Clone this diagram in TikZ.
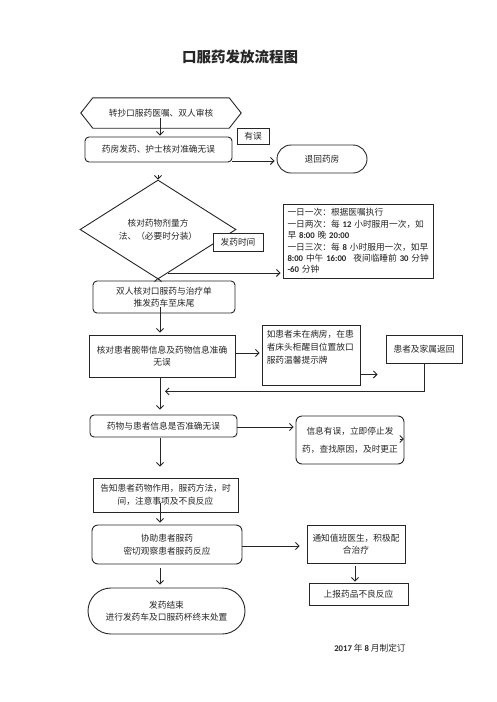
\documentclass[tikz,border=0pt]{standalone}
\usepackage{fontspec}
\setmainfont{Noto Sans CJK SC}
\newfontfamily\numf{Carlito}
\newcommand\nb[1]{{\numf\bfseries #1}}
\usetikzlibrary{arrows.meta,shapes.geometric,calc}
\begin{document}
\begin{tikzpicture}[x=1pt,y=-1pt,
  every node/.style={font=\fontsize{8.7}{12.5}\selectfont, inner sep=0pt, align=center, text=black!85},
  plain/.style={draw=black!85, line width=0.9pt},
  rbox/.style={plain, rounded corners=4pt},
  arr/.style={draw=black!85, line width=0.9pt, -{Straight Barb[length=3.5pt,width=7pt]}},
  ln/.style={draw=black!85, line width=0.9pt}]

\useasboundingbox[fill=white] (0,0) rectangle (496,702);
\coordinate (col) at (160,0);

\node[font=\fontsize{14.5}{16}\selectfont\bfseries] (title) at (240,57) {口服药发放流程图};

% hexagon
\node[minimum width=160pt, minimum height=30pt] (hex) at (161,113) {转抄口服药医嘱、双人审核};
\draw[plain] ([xshift=12pt]hex.north west) -- ([xshift=-12pt]hex.north east) -- (hex.east)
  -- ([xshift=-12pt]hex.south east) -- ([xshift=12pt]hex.south west) -- (hex.west) -- cycle;

\node[rbox, minimum width=147pt, minimum height=25pt] (box2) at (158.5,149.5) {药房发药、护士核对准确无误};
\node[plain, minimum width=32pt, minimum height=16pt] (err) at (253,136) {有误};
\node[plain, rounded corners=14pt, minimum width=90pt, minimum height=28pt] (ret) at (322,159) {退回药房};

\node[plain, diamond, minimum width=156pt, minimum height=61pt] (dia) at (158,229.5) {核对药物剂量方\\法、（必要时分装）};
\node[plain, fill=white, minimum width=50pt, minimum height=18pt] (ftime) at (238,242) {发药时间};

\node[plain, minimum width=150pt, minimum height=74pt, text width=147pt, align=left, inner xsep=1.5pt,
  font=\fontsize{8.7}{11.4}\selectfont] (tbox) at (358,241)
  {\hspace*{3pt}一日一次：根据医嘱执行\\
   \hspace*{3pt}一日两次：每~\nb{12}~小时服用一次，如\\
   \hspace*{3pt}早~\nb{8:00}~晚~\nb{20:00}\\
   \hspace*{3pt}一日三次：每~\nb{8}~小时服用一次，如早\\
   \hspace*{3pt}\nb{8:00}~中午~\nb{16:00}\hspace{7pt}夜间临睡前~\nb{30}~分钟\\
   \hspace*{3pt}\nb{-60}~分钟};

\node[rbox, minimum width=142pt, minimum height=32pt] (box4) at (164,297) {双人核对口服药与治疗单\\推发药车至床尾};
\node[plain, minimum width=146pt, minimum height=42pt] (box5) at (162,356) {核对患者腕带信息及药物信息准确\\无误};
\node[plain, minimum width=98pt, minimum height=60pt] (box6) at (311,355) {};
\node[anchor=north west, align=left, font=\fontsize{8.7}{13.3}\selectfont] (box6t) at ($(box6.north west)+(5,5)$)
  {如患者未在病房，在患\\者床头柜醒目位置放口\\服药温馨提示牌};
\node[plain, minimum width=76pt, minimum height=28pt] (box7) at (424,349) {患者及家属返回};

\node[rbox, minimum width=147pt, minimum height=22pt] (box8) at (163.5,426) {药物与患者信息是否准确无误};
\node[rbox, minimum width=108pt, minimum height=48pt, rounded corners=6pt, font=\fontsize{8.7}{18}\selectfont] (box9) at (350,440) {信息有误，立即停止发\\药，查找原因，及时更正};

\node[plain, minimum width=145pt, minimum height=34pt] (box10) at (165.5,495) {告知患者药物作用，服药方法，时\\间，注意事项及不良反应};
\node[rbox, rounded corners=6pt, minimum width=150pt, minimum height=39pt] (box11) at (167,544.5) {协助患者服药\\密切观察患者服药反应};
\node[plain, minimum width=98pt, minimum height=38pt] (box12) at (356,544) {通知值班医生，积极配\\合治疗};
\node[plain, minimum width=99pt, minimum height=22pt] (box13) at (358.5,594) {上报药品不良反应};
\node[plain, rounded corners=23pt, minimum width=157pt, minimum height=46pt] (box14) at (166.5,611) {发药结束\\进行发药车及口服药杯终末处置};

\node (foot) at (370,648) {\nb{2017} 年 \nb{8} 月制定订};

% connectors
\draw[arr] ($(hex.south -| col)+(0,-10)$) -- ($(box2.north -| col)+(0,-1)$);
\draw[arr, shorten >=2pt] ($(box2.south east)+(0,-1.5)$) -- ($(ret.west |- box2.south)+(0,-1.5)$);
\draw[arr] ($(box2.south -| dia.north)+(0,13)$) -- (dia.north);
\draw[arr] (dia.south) -- ($(box4.north -| dia.south)+(0,-3)$);
\coordinate (dA) at ($(dia.south)!0.13!(dia.east)$);
\draw[arr, shorten >=2pt] (dA) -- (dA -| tbox.west);
\draw[arr] ($(box4.south -| col)+(0,-6)$) -- ($(box5.north -| col)+(0,-2)$);
\draw[arr, shorten >=2pt] ($(box5.east)+(0,-3)$) -- ($(box6.west |- box5.east)+(0,-3)$);
\draw[arr, shorten >=8pt] ($(box6.south east)+(0,-11)$) -- ($(box7.west |- box6.south east)+(0,-11)$);
\draw[arr] (box7.south) |- ($(col |- box7.south)+(5,28)$);
\draw[arr] (box5.south -| col) -- ($(box8.north -| col)+(0,-5)$);
\draw[arr, shorten >=2pt] ($(box8.east)+(0,1)$) -- ($(box9.west |- box8.east)+(0,1)$);
\draw[arr] ($(box9.east)+(-4,-1)$) -- ($(box9.east)+(-0.5,-1)$);
\draw[arr] ($(box8.south -| col)+(0,1)$) -- ($(box10.north -| col)+(0,-11)$);
\draw[arr] ($(box10.south -| col)+(0,-9)$) -- ($(box11.north -| col)+(0,-2)$);
\draw[arr, shorten >=7pt] ($(box11.east)+(0,1.5)$) -- ($(box12.west |- box11.east)+(0,1.5)$);
\draw[arr, shorten >=1pt] ($(box12.south)+(-1,3)$) -- ($(box13.north)+(-3.5,0)$);
\draw[arr] ($(box11.south -| col)+(0,4)$) -- ($(box14.north -| col)+(0,-3)$);
\end{tikzpicture}
\end{document}
